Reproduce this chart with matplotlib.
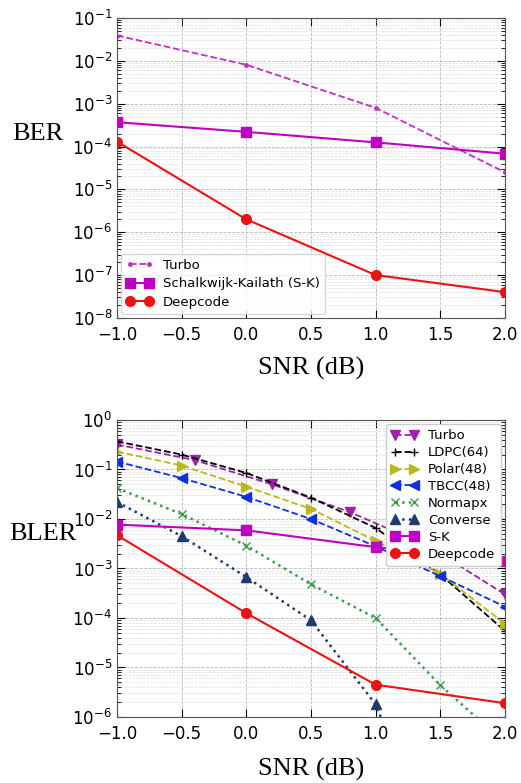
import matplotlib
matplotlib.use("Agg")
import matplotlib.pyplot as plt

# top panel: BER
snr = [-1.0, 0.0, 1.0, 2.0]
ber_turbo = [3.9e-2, 8.1e-3, 8.0e-4, 2.5e-5]
ber_sk = [3.7e-4, 2.2e-4, 1.25e-4, 6.8e-5]
ber_deepcode = [1.3e-4, 2.0e-6, 1.0e-7, 4.0e-8]

# bottom panel: BLER
snr_turbo = [-1.0, -0.4, 0.2, 0.8, 1.4, 2.0]
bler_turbo = [0.32, 0.155, 0.05, 0.0138, 0.0029, 3.0e-4]
snr_fine = [-1.0, -0.5, 0.0, 0.5, 1.0, 1.5, 2.0]
bler_ldpc = [0.37, 0.2, 0.085, 0.027, 0.0066, 7.6e-4, 5.5e-5]
bler_polar = [0.23, 0.12, 0.045, 0.016, 0.0036, 7.8e-4, 7.7e-5]
bler_tbcc = [0.145, 0.067, 0.028, 0.01, 0.0028, 7.0e-4, 1.7e-4]
bler_normapx = [0.042, 0.0126, 0.0029, 4.8e-4, 1.0e-4, 4.4e-6, 3.0e-7]
snr_conv = [-1.0, -0.5, 0.0, 0.5, 1.0, 1.5]
bler_converse = [0.022, 0.0045, 6.7e-4, 9.0e-5, 1.8e-6, 1.0e-9]
bler_sk = [0.0077, 0.0059, 0.0027, 0.00145]
bler_deepcode = [0.0047, 1.25e-4, 4.5e-6, 1.9e-6]

serif = {"family": ["Liberation Serif", "DejaVu Serif"], "size": 19}

fig = plt.figure(figsize=(5.21, 7.83), dpi=100)
ax1 = fig.add_axes([0.2246, 0.594, 0.7444, 0.383])
ax2 = fig.add_axes([0.2246, 0.0843, 0.7444, 0.3793])


def style(ax):
    ax.set_yscale("log")
    ax.set_xlim(-1.0, 2.0)
    ax.set_xticks([-1.0, -0.5, 0.0, 0.5, 1.0, 1.5, 2.0])
    ax.set_xticklabels(["\u22121.0", "\u22120.5", "0.0", "0.5", "1.0", "1.5", "2.0"])
    ax.grid(True, which="major", linestyle="--", color="#b8b8b8", linewidth=0.6)
    ax.grid(True, which="minor", linestyle="--", color="#dddddd", linewidth=0.5)
    ax.tick_params(which="both", direction="in", top=True, right=True, labelsize=12)
    ax.tick_params(axis="x", pad=6)
    ax.tick_params(which="major", length=6)
    ax.tick_params(which="minor", length=3)
    for s in ax.spines.values():
        s.set_color("#555555")


ax1.plot(snr, ber_turbo, "--", color="#c030c8", marker=".", markersize=5, lw=1.3, label="Turbo")
ax1.plot(snr, ber_sk, "-", color="#c000c0", marker="s", markersize=7, lw=1.5, label="Schalkwijk-Kailath (S-K)")
ax1.plot(snr, ber_deepcode, "-", color="#ee1111", marker="o", markersize=7, lw=1.5, label="Deepcode")
style(ax1)
ax1.set_ylim(1e-8, 1e-1)
ax1.legend(loc="lower left", fontsize=9.5, numpoints=2, handlelength=2, borderaxespad=0.3, labelspacing=0.4)
ax1.set_xlabel("SNR (dB)", fontdict=serif, va="center")
ax1.xaxis.set_label_coords(0.5, -0.17)
ax1.set_ylabel("BER", fontdict=serif, rotation=0, ha="right", va="center")
ax1.yaxis.set_label_coords(-0.139, 0.613)

ax2.plot(snr_turbo, bler_turbo, "--", color="#a020a8", marker="v", markersize=7, lw=1.3, label="Turbo")
ax2.plot(snr_fine, bler_ldpc, "--", color="black", marker="+", markersize=6, lw=1.3, label="LDPC(64)")
ax2.plot(snr_fine, bler_polar, "--", color="#b8b820", marker=">", markersize=7, lw=1.3, label="Polar(48)")
ax2.plot(snr_fine, bler_tbcc, "--", color="#1030e0", marker="<", markersize=7, lw=1.3, label="TBCC(48)")
ax2.plot(snr_fine, bler_normapx, ":", color="#3c9a4c", marker="x", markersize=6, lw=1.8, label="Normapx")
ax2.plot(snr_conv, bler_converse, ":", color="#203a70", marker="^", markersize=7, lw=1.8, label="Converse")
ax2.plot(snr, bler_sk, "-", color="#c000c0", marker="s", markersize=7, lw=1.5, label="S-K")
ax2.plot(snr, bler_deepcode, "-", color="#ee1111", marker="o", markersize=7, lw=1.5, label="Deepcode")
style(ax2)
ax2.set_ylim(1e-6, 1e0)
ax2.legend(loc="upper right", fontsize=9.5, numpoints=2, handlelength=2, borderaxespad=0.3,
           labelspacing=0.3, framealpha=1.0)
ax2.set_xlabel("SNR (dB)", fontdict=serif, va="center")
ax2.xaxis.set_label_coords(0.5, -0.178)
ax2.set_ylabel("BLER", fontdict=serif, rotation=0, ha="right", va="center")
ax2.yaxis.set_label_coords(-0.103, 0.616)

fig.savefig("out.png", dpi=100)
